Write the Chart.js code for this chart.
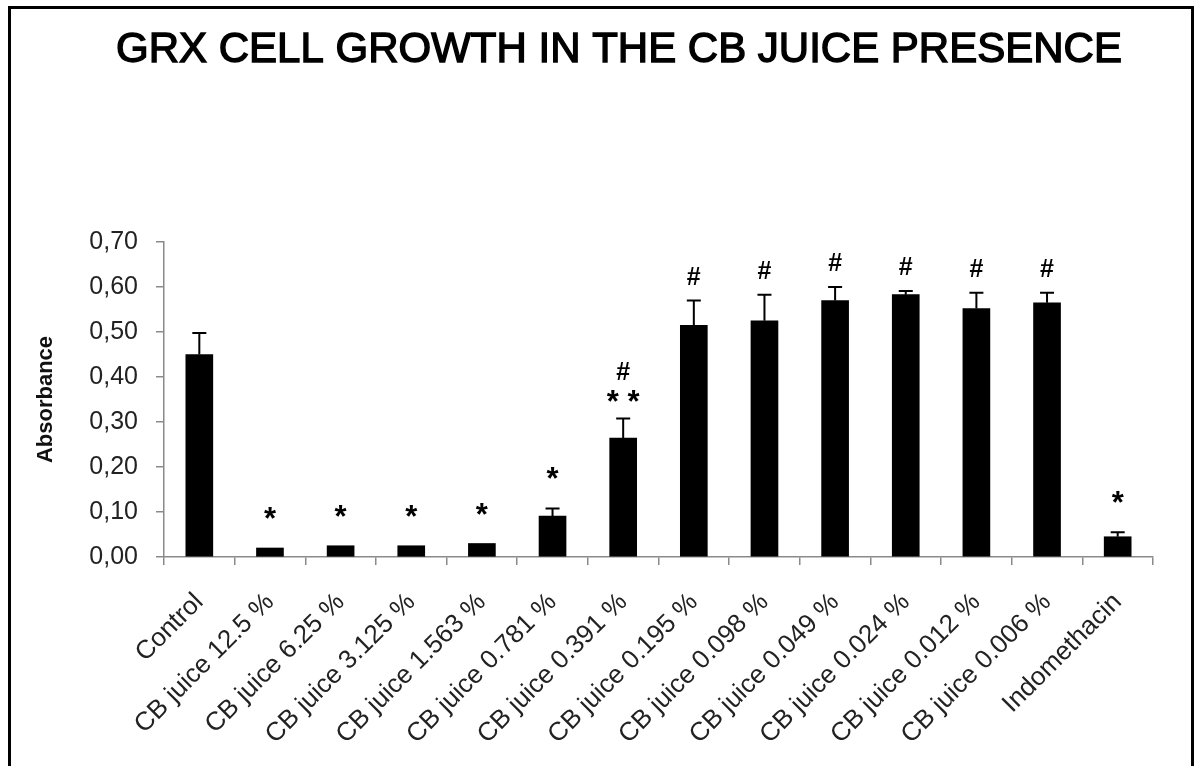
<!DOCTYPE html>
<html>
<head>
<meta charset="utf-8">
<script src="https://cdn.jsdelivr.net/npm/chart.js"></script>
<style>
  html, body { margin: 0; padding: 0; background: #fff; }
  #wrap { position: relative; width: 1197px; height: 766px; overflow: hidden; }
  #frame { position: absolute; left: 8px; top: 6px; width: 1180px; height: 800px;
           border: 3px solid #000; pointer-events: none; }
</style>
</head>
<body>
<div id="wrap">
  <canvas id="chart" width="1197" height="766"></canvas>
  <div id="frame"></div>
</div>
<script>
// values
const TITLE = 'GRX CELL GROWTH IN THE CB JUICE PRESENCE';
const categories = ['Control', 'CB juice 12.5 %', 'CB juice 6.25 %', 'CB juice 3.125 %',
  'CB juice 1.563 %', 'CB juice 0.781 %', 'CB juice 0.391 %', 'CB juice 0.195 %',
  'CB juice 0.098 %', 'CB juice 0.049 %', 'CB juice 0.024 %', 'CB juice 0.012 %',
  'CB juice 0.006 %', 'Indomethacin'];
const absorbance = [0.450, 0.020, 0.025, 0.025, 0.030, 0.091, 0.264, 0.515, 0.525, 0.570, 0.583, 0.552, 0.565, 0.045];
const errors     = [0.048, 0.000, 0.000, 0.000, 0.000, 0.017, 0.044, 0.055, 0.058, 0.030, 0.008, 0.035, 0.022, 0.010];
const stars      = [0, 1, 1, 1, 1, 1, 2, 0, 0, 0, 0, 0, 0, 1];
const hashes     = [0, 0, 0, 0, 0, 0, 1, 1, 1, 1, 1, 1, 1, 0];
const yTicks = [0, 0.1, 0.2, 0.3, 0.4, 0.5, 0.6, 0.7];

const FONT = "'Liberation Sans', Arial, sans-serif";

const extras = {
  id: 'extras',
  afterDatasetsDraw(chart) {
    const ctx = chart.ctx;
    const meta = chart.getDatasetMeta(0);
    const y = chart.scales.y;
    ctx.save();
    // error bars (upper only)
    ctx.strokeStyle = '#000';
    ctx.lineWidth = 2;
    meta.data.forEach((bar, i) => {
      if (!errors[i]) return;
      const top = y.getPixelForValue(absorbance[i] + errors[i]);
      ctx.beginPath();
      ctx.moveTo(bar.x, bar.y);
      ctx.lineTo(bar.x, top);
      ctx.moveTo(bar.x - 7, top);
      ctx.lineTo(bar.x + 7, top);
      ctx.stroke();
    });
    // significance marks
    ctx.fillStyle = '#000';
    ctx.textAlign = 'center';
    ctx.textBaseline = 'alphabetic';
    meta.data.forEach((bar, i) => {
      const top = y.getPixelForValue(absorbance[i] + errors[i]);
      let hashAt = top - 25;
      if (stars[i] === 1) {
        ctx.font = 'bold 31px ' + FONT;
        ctx.fillText('*', bar.x, top - 32 + 13);
      } else if (stars[i] === 2) {
        ctx.font = 'bold 31px ' + FONT;
        ctx.fillText('* *', bar.x, top - 19 + 13);
        hashAt = top - 47;
      }
      if (hashes[i]) {
        ctx.font = 'bold 25px ' + FONT;
        ctx.fillText('#', bar.x, hashAt + 9);
      }
    });
    ctx.restore();
  },
  afterDraw(chart) {
    const ctx = chart.ctx;
    ctx.save();
    ctx.fillStyle = '#000';
    ctx.strokeStyle = '#000';
    ctx.lineWidth = 1.4;
    ctx.font = '42px ' + FONT;
    ctx.textAlign = 'center';
    ctx.textBaseline = 'alphabetic';
    ctx.fillText(TITLE, 619, 62);
    ctx.strokeText(TITLE, 619, 62);
    ctx.restore();
  }
};

new Chart('chart', {
  type: 'bar',
  data: {
    labels: categories,
    datasets: [{
      label: 'Absorbance',
      data: absorbance,
      backgroundColor: '#000',
      borderWidth: 0,
      barThickness: 27
    }]
  },
  options: {
    responsive: false,
    animation: false,
    layout: { padding: { top: 242, left: 20, right: 44, bottom: 0 } },
    plugins: { legend: { display: false }, tooltip: { enabled: false }, title: { display: false } },
    scales: {
      x: {
        afterFit(scale) { scale.height = 209; },
        grid: { display: true, drawOnChartArea: false, offset: true, tickLength: 8, color: '#8a8a8a', lineWidth: 1.5 },
        border: { color: '#8a8a8a', width: 1.5 },
        ticks: {
          minRotation: 45, maxRotation: 45, autoSkip: false, padding: 22,
          color: '#222', font: { family: FONT, size: 26 }
        }
      },
      y: {
        min: 0, max: 0.7,
        afterFit(scale) { scale.width = 144; },
        afterBuildTicks(scale) { scale.ticks = yTicks.map(v => ({ value: v })); },
        grid: { display: true, drawOnChartArea: false, tickLength: 8, color: '#8a8a8a', lineWidth: 1.5 },
        border: { color: '#8a8a8a', width: 1.5 },
        ticks: {
          padding: 18, color: '#222', font: { family: FONT, size: 25 },
          callback: v => v.toFixed(2).replace('.', ',')
        },
        title: {
          display: true, text: 'Absorbance', color: '#111',
          font: { family: FONT, size: 22, weight: 'bold' },
          padding: { top: 13, bottom: 0 }
        }
      }
    }
  },
  plugins: [extras]
});
</script>
</body>
</html>
